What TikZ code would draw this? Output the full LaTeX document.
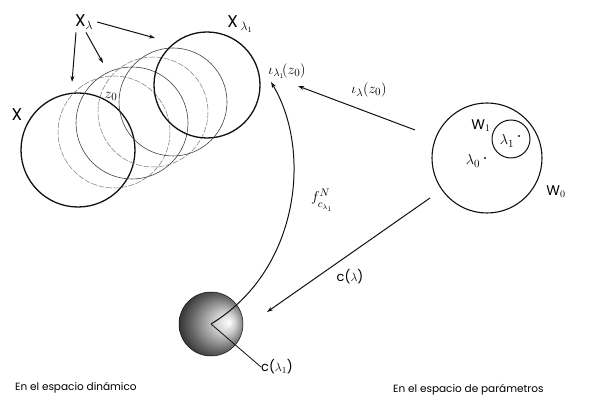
\documentclass[tikz,border=0pt]{standalone}
\usepackage{fontspec}
\setmainfont{Poppins}
\usepackage{xcolor}
\definecolor{InkBlack}{HTML}{111111}
\definecolor{GhostGray}{HTML}{777777}
\usepackage{tikz}
\usetikzlibrary{positioning, arrows.meta}
\pgfdeclareradialshading{ballshade}{\pgfpoint{0.5cm}{0.05cm}}{%
  color(0cm)=(white); color(0.3cm)=(black!20); color(0.75cm)=(black!60); color(1.25cm)=(black)}

\begin{document}
\begin{tikzpicture}[
    x=1pt, y=-1pt, >={Stealth[length=6pt, width=4pt]},
    set/.style={draw=InkBlack, line width=1.3pt},
    ghost/.style={draw=GhostGray, line width=0.5pt, dash pattern=on 6pt off 1.5pt},
    thinset/.style={draw=InkBlack!80, line width=0.6pt},
    arr/.style={->, line width=1pt, InkBlack},
    big/.style={font=\fontsize{17}{17}\selectfont, inner sep=0pt},
    mid/.style={font=\fontsize{14}{14}\selectfont, inner sep=0pt},
    lab/.style={font=\fontsize{13}{13}\selectfont, inner sep=0pt},
    mlab/.style={font=\fontsize{15}{15}\selectfont, inner sep=0pt},
    txt/.style={font=\fontsize{10.5}{11}\selectfont, inner sep=0pt},
    pt/.style={circle, fill=InkBlack, inner sep=0pt, minimum size=2.4pt}
]
\useasboundingbox (0,0) rectangle (605,403);
% espacio dinamico
\draw[set] (78,150) circle (57);
\draw[ghost] (114,132) circle (56);
\draw[thinset] (132,123) circle (56);
\draw[ghost] (153,112) circle (55);
\draw[thinset] (173,102) circle (54);
\draw[set] (207,85) circle (53);
\node[big] (lx) at (17,115) {X};
\node[big] (lxl) at (84,22) {X$_{\lambda}$};
\node[big] (lxl1) at (240,24) {X\,$_{\lambda_{1}}$};
\node[mlab] (lz) at (111,96) {$z_0$};
\coordinate (e1) at (155,38);
\coordinate (e2) at (103,63);
\coordinate (e3) at (72,82);
\draw[arr] ([xshift=4pt]lxl.east) -- (e1);
\draw[arr] (lxl.south) ++(2,3) -- (e2);
\draw[arr] (lxl.south) ++(-8,3) -- (e3);
% bola
\coordinate (bc) at (211,324);
\shade[shading=ballshade] (bc) circle (32);
\draw[InkBlack, line width=0.5pt] (bc) circle (32);
\node[lab, anchor=west] (lc1) at (261,367) {c($\lambda_1$)};
\draw[InkBlack, line width=0.8pt] (bc) -- (lc1.west);
\node[mlab] (li1) at (287,71) {$\iota_{\lambda_1}\!(z_0)$};
\coordinate (ft) at (271,82);
\draw[arr] (bc) .. controls (300,270) and (312,150) .. (ft);
\node[mlab] (lf) at (322,200) {$f^{N}_{\rule{0pt}{10pt}c_{\lambda_1}}$};
% espacio de parametros
\draw[set, line width=1.1pt] (487,158) circle (55);
\draw[set, line width=1pt] (511,139) circle (19);
\node[mid] (lw1) at (481,126) {W$_1$};
\node[mid] (lw0) at (556,192) {W$_0$};
\node[mlab] (ll1) at (507,141) {$\lambda_1$};
\node[pt] (p1) at (519,136) {};
\node[mlab] (ll0) at (473,161) {$\lambda_0$};
\node[pt] (p0) at (485,158) {};
\coordinate (ws) at (415,130);
\coordinate (wc) at (430,198);
\draw[arr] (ws) -- (298,86) coordinate (it);
\node[mlab] (li) at (369,90) {$\iota_{\lambda}(z_0)$};
\draw[arr] (wc) -- (267,312) coordinate (ct);
\node[lab] (lcl) at (350,277) {c($\lambda$)};
% rotulos
\node[txt, anchor=west] (tdin) at (15,388) {En el espacio dinámico};
\node[txt, anchor=west] (tpar) at (393,390) {En el espacio de parámetros};
\end{tikzpicture}
\end{document}
